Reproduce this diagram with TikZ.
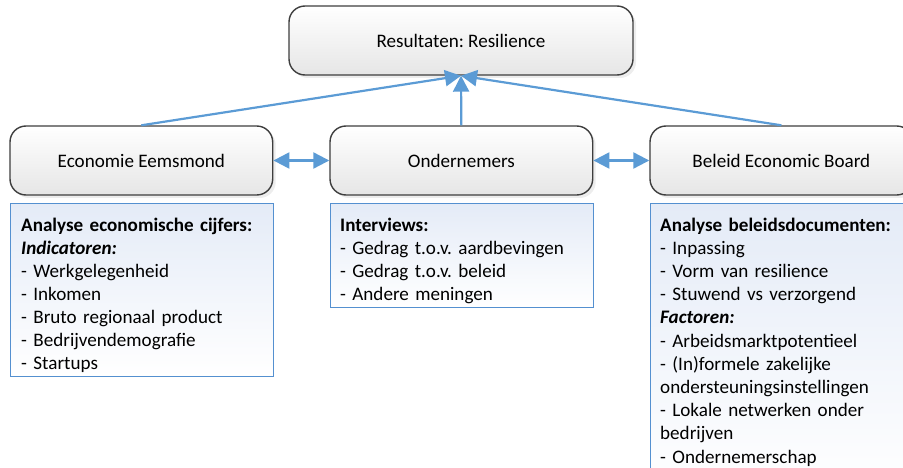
\documentclass[tikz,border=0pt]{standalone}
\usepackage{fontspec}
\setmainfont{Carlito}
\usetikzlibrary{arrows.meta,shadows}
\definecolor{arrowblue}{RGB}{91,155,213}
\definecolor{infoborder}{RGB}{84,144,208}
\definecolor{infotop}{RGB}{228,235,247}
\definecolor{boxborder}{RGB}{62,62,62}
\definecolor{boxbottom}{RGB}{230,230,230}
\frenchspacing
\begin{document}
\begin{tikzpicture}[x=1pt,y=-1pt,
  topbox/.style={draw=boxborder, line width=1.4pt, rounded corners=16pt,
    top color=white, bottom color=boxbottom,
    drop shadow={shadow xshift=3pt, shadow yshift=-3pt, fill=black!14},
    minimum width=262.7pt, minimum height=69pt, inner sep=0pt,
    font=\fontsize{19.1}{22.9}\selectfont},
  infobox/.style={draw=infoborder, line width=1.3pt, top color=infotop, bottom color=white,
    anchor=north west, inner sep=0pt},
  infotext/.style={anchor=base west, inner sep=0pt, align=left, text width=250pt,
    font=\fontsize{19.1}{22.9}\selectfont},
  conn/.style={draw=arrowblue, line width=2.2pt},
  tip/.style={-{Triangle[length=16pt,width=16pt]}},
  dtip/.style={{Triangle[length=16pt,width=16pt]}-{Triangle[length=16pt,width=16pt]}}
]
\useasboundingbox (0,0) rectangle (903,468);
\clip (0,0) rectangle (903,468);

% top row boxes
\node[topbox, minimum width=344pt] (res) at (461,40.5) {Resultaten: Resilience};
\node[topbox] (eco) at (141.35,160.5) {Economie Eemsmond};
\node[topbox] (ond) at (461.35,160.5) {Ondernemers};
\node[topbox] (bel) at (781.35,160.5) {Beleid Economic Board};

% connectors
\draw[conn, tip] (eco.north) -- (res.south);
\draw[conn, tip] (bel.north) -- (res.south);
\draw[conn, tip] (ond.north) -- (res.south);
\draw[conn, dtip] (eco.east) -- (ond.west);
\draw[conn, dtip] (ond.east) -- (bel.west);

% info boxes
\node[infobox, minimum width=262.7pt, minimum height=173pt] (ecoinfo) at (10,202.7) {};
\node[infobox, minimum width=262.7pt, minimum height=104pt] (ondinfo) at (330,202.7) {};
\node[infobox, minimum width=262.7pt, minimum height=290pt] (belinfo) at (650,202.7) {};

\node[infotext] (ecotext) at (21,231.7) {\textbf{Analyse economische cijfers:}\\
\textbf{\textit{Indicatoren:}}\\
- Werkgelegenheid\\
- Inkomen\\
- Bruto regionaal product\\
- Bedrijvendemografie\\
- Startups};

\node[infotext] (ondtext) at (340,231.7) {\textbf{Interviews:}\\
- Gedrag t.o.v. aardbevingen\\
- Gedrag t.o.v. beleid\\
- Andere meningen};

\node[infotext, font=\fontsize{19.1}{23.2}\selectfont] (beltext) at (660,231.2) {\textbf{Analyse beleidsdocumenten:}\\
- Inpassing\\
- Vorm van resilience\\
- Stuwend vs verzorgend\\
\textbf{\textit{Factoren:}}\\
- Arbeidsmarktpotentieel\\
- (In)formele zakelijke\\
ondersteuningsinstellingen\\
- Lokale netwerken onder\\
bedrijven\\
- Ondernemerschap};
\end{tikzpicture}
\end{document}
